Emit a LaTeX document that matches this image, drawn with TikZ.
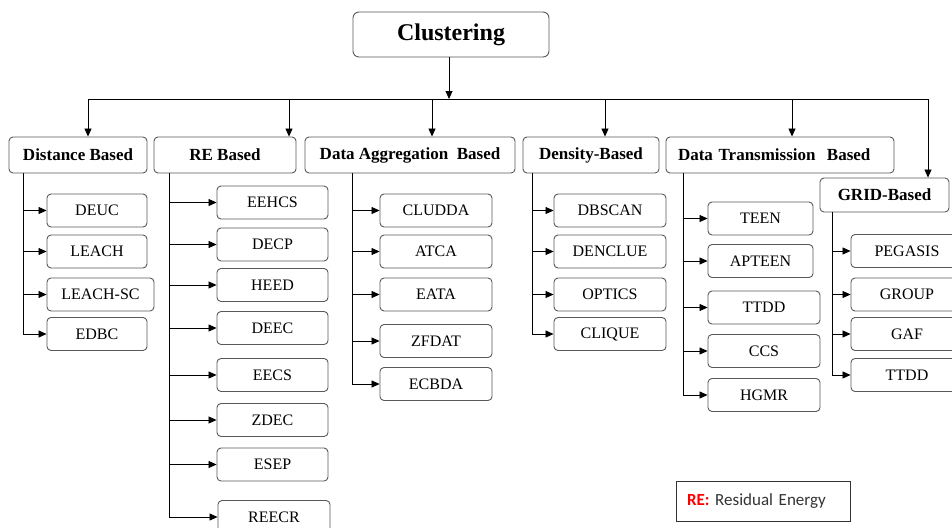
\documentclass[tikz,border=0pt]{standalone}
\usepackage{fontspec}
\setmainfont{Liberation Serif}
\newfontfamily\legendfont{Carlito}
\usetikzlibrary{arrows.meta}

\tikzset{
  box/.style={draw=black!65, line width=0.9pt, rounded corners=4pt, inner sep=0pt, align=center},
  head/.style={box, font=\fontsize{17}{20}\selectfont\bfseries, minimum height=36pt},
  leaf/.style={box, font=\fontsize{16}{19}\selectfont, minimum height=33pt},
  arr/.style={-{Triangle[length=8pt,width=7pt]}, line width=0.8pt},
  link/.style={line width=0.8pt},
}

\begin{document}
\begin{tikzpicture}[x=1pt, y=-1pt]
\useasboundingbox (0,0) rectangle (952,527);

\node[box, font=\fontsize{24}{28}\selectfont\bfseries, minimum width=196pt, minimum height=45pt, rounded corners=6pt] (clus) at (451,34.5) {Clustering};

% first level
\node[head, minimum width=138pt] (dist)  at (78,155)    {Distance Based};
\node[head, minimum width=142pt] (re)    at (225,155)   {RE Based};
\node[head, minimum width=210pt] (agg)   at (410,155)   {Data Aggregation~ Based};
\node[head, minimum width=136pt] (dens)  at (591,155)   {Density-Based};
\node[head, minimum width=228pt, text width=204pt, align=left] (trans) at (780,155) {Data Transmission~ Based};
\node[head, minimum width=129pt, minimum height=34pt] (grid) at (884.5,195) {GRID-Based};

\coordinate (bus) at (449,99);
\draw[arr] (clus.south -| bus) -- (bus);
\foreach \n/\x in {dist/88, re/289, agg/432, dens/605, trans/792, grid/928} {
  \coordinate (d\n) at (\x,99);
  \draw[arr] (d\n) -- (d\n |- \n.north);
}
\draw[link] (ddist) -- (dgrid);

% distance based
\node[leaf, minimum width=100pt] (deuc)    at (97,210.5)  {DEUC};
\node[leaf, minimum width=100pt] (leach)   at (97,251.5)  {LEACH};
\node[leaf, minimum width=107pt] (leachsc) at (100.5,294.5) {LEACH-SC};
\node[leaf, minimum width=100pt] (edbc)    at (97,334)    {EDBC};
\foreach \c in {deuc,leach,leachsc,edbc}
  \draw[arr] ([xshift=15pt]dist.south west) |- (\c.west);

% RE based
\node[leaf, minimum width=111pt] (eehcs) at (272.5,202.5) {EEHCS};
\node[leaf, minimum width=111pt] (decp)  at (272.5,244.5) {DECP};
\node[leaf, minimum width=111pt] (heed)  at (272.5,285)   {HEED};
\node[leaf, minimum width=111pt] (deec)  at (272.5,328)   {DEEC};
\node[leaf, minimum width=111pt] (eecs)  at (272.5,375)   {EECS};
\node[leaf, minimum width=111pt] (zdec)  at (272.5,420)   {ZDEC};
\node[leaf, minimum width=111pt] (esep)  at (272.5,464.5) {ESEP};
\node[leaf, minimum width=112pt] (reecr) at (274,517)     {REECR};
\foreach \c in {eehcs,decp,heed,deec,eecs,zdec,esep,reecr}
  \draw[arr] ([xshift=16pt]re.south west) |- (\c.west);

% data aggregation
\node[leaf, minimum width=112pt] (cludda) at (436,210.5) {CLUDDA};
\node[leaf, minimum width=112pt] (atca)   at (436,251.5) {ATCA};
\node[leaf, minimum width=112pt] (eata)   at (436,294.5) {EATA};
\node[leaf, minimum width=112pt] (zfdat)  at (436,341)   {ZFDAT};
\node[leaf, minimum width=112pt] (ecbda)  at (436,384)   {ECBDA};
\foreach \c in {cludda,atca,eata,zfdat,ecbda}
  \draw[arr] ([xshift=48pt]agg.south west) |- (\c.west);

% density
\node[leaf, minimum width=112pt] (dbscan)  at (610,210.5) {DBSCAN};
\node[leaf, minimum width=112pt] (denclue) at (610,251.5) {DENCLUE};
\node[leaf, minimum width=112pt] (optics)  at (610,294.5) {OPTICS};
\node[leaf, minimum width=112pt] (clique)  at (610,334)   {CLIQUE};
\foreach \c in {dbscan,denclue,optics,clique}
  \draw[arr] ([xshift=10pt]dens.south west) |- (\c.west);

% data transmission
\node[leaf, minimum width=105pt] (teen)   at (760.5,218.5) {TEEN};
\node[leaf, minimum width=105pt] (apteen) at (760.5,261)   {APTEEN};
\node[leaf, minimum width=112pt] (ttdd)   at (764,307.5)   {TTDD};
\node[leaf, minimum width=112pt] (ccs)    at (764,351)     {CCS};
\node[leaf, minimum width=112pt] (hgmr)   at (764,395)     {HGMR};
\foreach \c in {teen,apteen,ttdd,ccs,hgmr}
  \draw[arr] ([xshift=18pt]trans.south west) |- (\c.west);

% grid
\node[leaf, minimum width=112pt] (pegasis) at (907,251)   {PEGASIS};
\node[leaf, minimum width=112pt] (group)   at (907,294.5) {GROUP};
\node[leaf, minimum width=112pt] (gaf)     at (907,334)   {GAF};
\node[leaf, minimum width=112pt] (ttddg)   at (907,375)   {TTDD};
\foreach \c in {pegasis,group,gaf,ttddg}
  \draw[arr] ([xshift=13pt]grid.south west) |- (\c.west);

\node[draw=black!80, line width=0.9pt, minimum height=40pt, text width=152pt, inner xsep=11pt, align=left,
  font=\legendfont\fontsize{17}{20}\selectfont] (legend) at (763,501)
  {\textcolor{red}{\bfseries RE:} \textcolor{black!80}{Residual Energy}};
\end{tikzpicture}
\end{document}
